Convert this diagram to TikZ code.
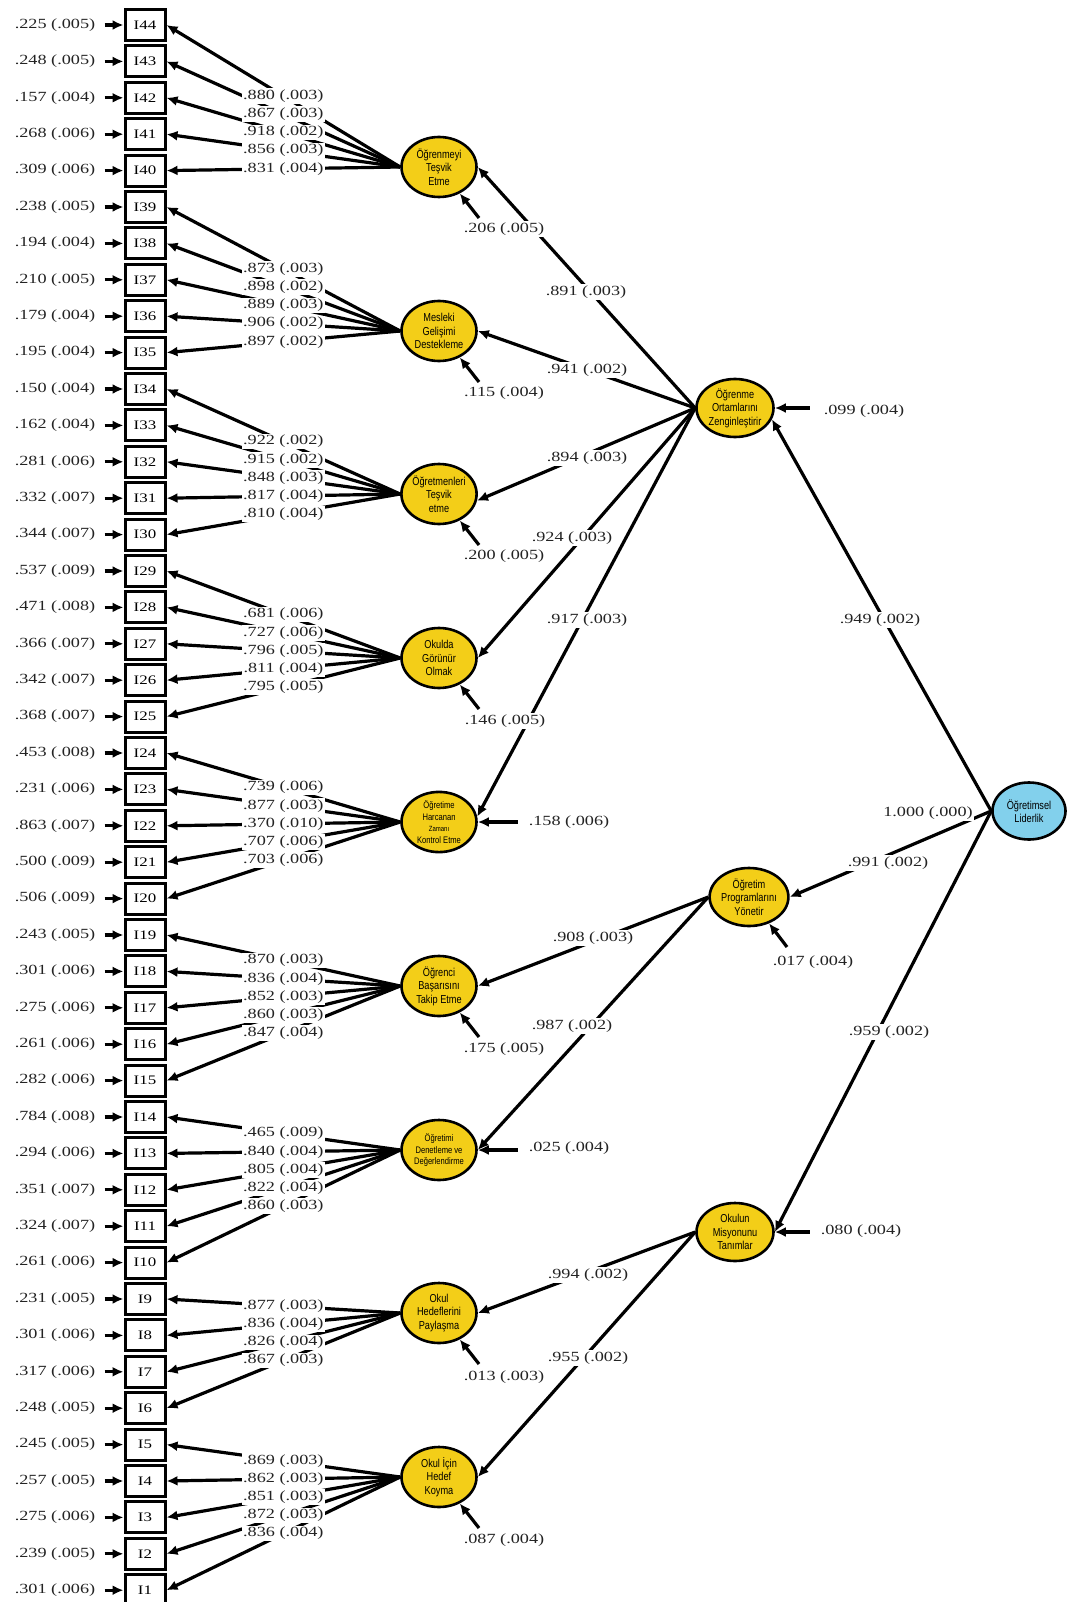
\documentclass[tikz,border=0pt]{standalone}
\usepackage{fontspec}
\setmainfont{Liberation Serif}[FakeStretch=1.3]
\newfontfamily\latfont{Liberation Sans}[FakeStretch=0.8]
\usetikzlibrary{shapes.geometric,arrows.meta,calc}
\pgfdeclarelayer{fg}
\pgfsetlayers{main,fg}
\definecolor{latyellow}{RGB}{243,206,24}
\definecolor{latblue}{RGB}{130,208,236}
\definecolor{numgray}{RGB}{35,35,35}

% loadings of one factor: factor node, list of item/estimate/se
\newcommand\itemloadings[2]{%
  \foreach \nn/\lv/\ls in {#2}{%
    \draw[arr] (#1.west) -- coordinate[pos=.5] (m\nn) (i\nn.east);
    \begin{pgfonlayer}{fg}
      \node[numbg] (l\nn) at (m\nn) {\lv{} (\ls)};
    \end{pgfonlayer}
  }%
}

\begin{document}
\begin{tikzpicture}[x=1pt,y=-1pt,
  arr/.style={line width=3.2pt,-{Latex[length=11pt,width=10pt]}},
  item/.style={draw,line width=3pt,minimum width=40pt,minimum height=31pt,inner sep=0pt,font=\fontsize{13}{13}\selectfont},
  num/.style={inner sep=1.5pt,text=numgray,font=\fontsize{14}{14}\selectfont},
  numbg/.style={num,fill=white},
  latent/.style={ellipse,draw,line width=2.6pt,fill=latyellow,minimum width=75pt,minimum height=60pt,inner sep=0pt,align=center,font=\latfont\fontsize{11.5}{13.5}\selectfont},
  latsmall/.style={latent,font=\latfont\fontsize{9.5}{11.5}\selectfont},
  second/.style={latent,minimum width=77pt,minimum height=58pt},
]
\fill[white] (0,0) rectangle (1067,1602);
\useasboundingbox (0,0) rectangle (1067,1602);

% observed indicators with their residual variances
\foreach \nn/\ev/\es [count=\rr from 0] in {
  44/.225/.005, 43/.248/.005, 42/.157/.004, 41/.268/.006, 40/.309/.006,
  39/.238/.005, 38/.194/.004, 37/.210/.005, 36/.179/.004, 35/.195/.004,
  34/.150/.004, 33/.162/.004, 32/.281/.006, 31/.332/.007, 30/.344/.007,
  29/.537/.009, 28/.471/.008, 27/.366/.007, 26/.342/.007, 25/.368/.007,
  24/.453/.008, 23/.231/.006, 22/.863/.007, 21/.500/.009, 20/.506/.009,
  19/.243/.005, 18/.301/.006, 17/.275/.006, 16/.261/.006, 15/.282/.006,
  14/.784/.008, 13/.294/.006, 12/.351/.007, 11/.324/.007, 10/.261/.006,
  9/.231/.005, 8/.301/.006, 7/.317/.006, 6/.248/.005,
  5/.245/.005, 4/.257/.005, 3/.275/.006, 2/.239/.005, 1/.301/.006}{
  \node[item] (i\nn) at (145,25+36.4*\rr) {I\nn};
  \node[num] (r\nn) at (55,25+36.4*\rr) {\ev{} (\es)};
  \draw[arr] ([xshift=-19pt]i\nn.west) -- (i\nn.west);
}

% first-order factors
\node[latent] (f1) at (439,167) {Öğrenmeyi\\Teşvik\\Etme};
\node[latent] (f2) at (439,331) {Mesleki\\Gelişimi\\Destekleme};
\node[latent] (f3) at (439,494) {Öğretmenleri\\Teşvik\\etme};
\node[latent] (f4) at (439,658) {Okulda\\Görünür\\Olmak};
\node[latsmall] (f5) at (439,822) {Öğretime\\Harcanan\\{\fontsize{7.5}{9}\selectfont Zamanı}\\Kontrol Etme};
\node[latent] (f6) at (439,986) {Öğrenci\\Başarısını\\Takip Etme};
\node[latsmall] (f7) at (439,1150) {Öğretimi\\Denetleme ve\\Değerlendirme};
\node[latent] (f8) at (439,1313) {Okul\\Hedeflerini\\Paylaşma};
\node[latent] (f9) at (439,1477) {Okul İçin\\Hedef\\Koyma};

% second-order factors
\node[second] (ortam) at (735,408) {Öğrenme\\Ortamlarını\\Zenginleştirir};
\node[second] (prog) at (749,897) {Öğretim\\Programlarını\\Yönetir};
\node[second] (mis) at (735,1232) {Okulun\\Misyonunu\\Tanımlar};
\node[latent,fill=latblue,minimum width=73pt,minimum height=57pt] (lid) at (1029,811) {Öğretimsel\\Liderlik};

% factor loadings
\itemloadings{f1}{44/.880/.003, 43/.867/.003, 42/.918/.002, 41/.856/.003, 40/.831/.004}
\itemloadings{f2}{39/.873/.003, 38/.898/.002, 37/.889/.003, 36/.906/.002, 35/.897/.002}
\itemloadings{f3}{34/.922/.002, 33/.915/.002, 32/.848/.003, 31/.817/.004, 30/.810/.004}
\itemloadings{f4}{29/.681/.006, 28/.727/.006, 27/.796/.005, 26/.811/.004, 25/.795/.005}
\itemloadings{f5}{24/.739/.006, 23/.877/.003, 22/.370/.010, 21/.707/.006, 20/.703/.006}
\itemloadings{f6}{19/.870/.003, 18/.836/.004, 17/.852/.003, 16/.860/.003, 15/.847/.004}
\itemloadings{f7}{14/.465/.009, 13/.840/.004, 12/.805/.004, 11/.822/.004, 10/.860/.003}
\itemloadings{f8}{9/.877/.003, 8/.836/.004, 7/.826/.004, 6/.867/.003}
\itemloadings{f9}{5/.869/.003, 4/.862/.003, 3/.851/.003, 2/.872/.003, 1/.836/.004}

% second-order paths
\draw[arr] (ortam.west) -- (f1.east);
\draw[arr] (ortam.west) -- (f2.east);
\draw[arr] (ortam.west) -- (f3.-10);
\draw[arr] (ortam.west) -- (f4.east);
\draw[arr] (ortam.west) -- (f5.8);
\draw[arr] (prog.west) -- (f6.east);
\draw[arr] (prog.west) -- (f7.east);
\draw[arr] (mis.west) -- (f8.east);
\draw[arr] (mis.west) -- (f9.east);

% third-order paths
\draw[arr] (lid.west) -- (ortam.-17);
\draw[arr] (lid.west) -- (prog.east);
\draw[arr] (lid.west) -- (mis.east);

% disturbances of the first-order factors
\foreach \f in {f1,f2,f3,f4,f6,f8,f9}{
  \coordinate (d\f) at ($(\f)+(40,51)$);
  \draw[arr] (d\f) -- (\f);
}
\draw[arr] ([xshift=40pt]f5.east) -- (f5.east);
\draw[arr] ([xshift=40pt]f7.east) -- (f7.east);

% disturbances of the second-order factors
\draw[arr] ([xshift=35pt]ortam.east) -- (ortam.east);
\draw[arr] ([xshift=35pt]mis.east) -- (mis.east);
\coordinate (dprog) at ($(prog)+(38,50)$);
\draw[arr] (dprog) -- (prog);

\begin{pgfonlayer}{fg}
  % path estimates
  \node[numbg] (p1) at (586,292) {.891 (.003)};
  \node[numbg] (p2) at (587,370) {.941 (.002)};
  \node[numbg] (p3) at (587,458) {.894 (.003)};
  \node[numbg] (p4) at (572,538) {.924 (.003)};
  \node[numbg] (p5) at (587,620) {.917 (.003)};
  \node[numbg] (p6) at (593,938) {.908 (.003)};
  \node[numbg] (p7) at (572,1026) {.987 (.002)};
  \node[numbg] (p8) at (588,1275) {.994 (.002)};
  \node[numbg] (p9) at (588,1358) {.955 (.002)};
  \node[numbg] (q1) at (880,620) {.949 (.002)};
  \node[numbg] (q2) at (888,863) {.991 (.002)};
  \node[numbg] (q3) at (889,1032) {.959 (.002)};
  \node[numbg] (vlid) at (928,813) {1.000 (.000)};
  % disturbance estimates
  \node[numbg] (e1) at ($(f1)+(65,62)$) {.206 (.005)};
  \node[numbg] (e2) at ($(f2)+(65,62)$) {.115 (.004)};
  \node[numbg] (e3) at ($(f3)+(65,62)$) {.200 (.005)};
  \node[numbg] (e4) at ($(f4)+(66,63)$) {.146 (.005)};
  \node[numbg] (e5) at ($(f5)+(130,0)$) {.158 (.006)};
  \node[numbg] (e6) at ($(f6)+(65,63)$) {.175 (.005)};
  \node[numbg] (e7) at ($(f7)+(130,-2)$) {.025 (.004)};
  \node[numbg] (e8) at ($(f8)+(65,64)$) {.013 (.003)};
  \node[numbg] (e9) at ($(f9)+(65,63)$) {.087 (.004)};
  \node[numbg] (eortam) at ($(ortam)+(129,3)$) {.099 (.004)};
  \node[numbg] (eprog) at ($(prog)+(64,65)$) {.017 (.004)};
  \node[numbg] (emis) at ($(mis)+(126,-1)$) {.080 (.004)};
\end{pgfonlayer}
\end{tikzpicture}
\end{document}
